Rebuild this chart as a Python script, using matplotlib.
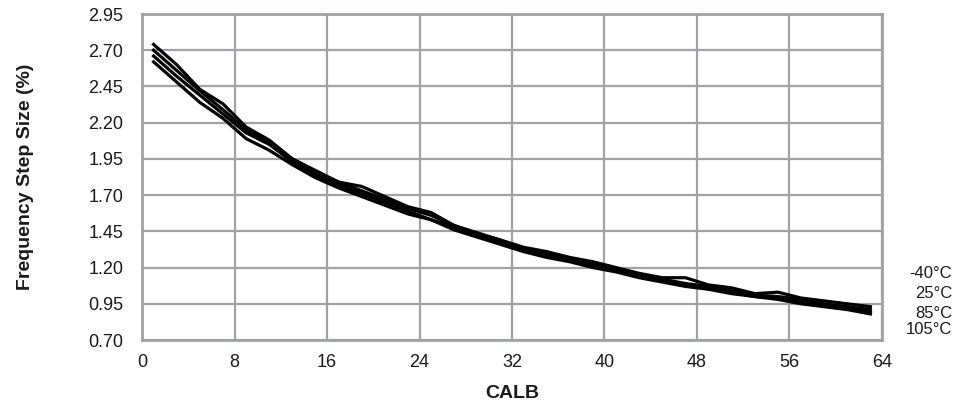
import matplotlib
matplotlib.use("Agg")
import matplotlib.pyplot as plt

plt.rcParams['font.family'] = ['Liberation Sans', 'DejaVu Sans']

calb = [1, 3, 5, 7, 9, 11, 13, 15, 17, 19, 21, 23, 25, 27, 29, 31,
        33, 35, 37, 39, 41, 43, 45, 47, 49, 51, 53, 55, 57, 59, 61, 63]

step_m40 = [2.74, 2.60, 2.43, 2.33, 2.17, 2.08, 1.95, 1.87, 1.79, 1.76, 1.69, 1.62, 1.58, 1.49, 1.43, 1.39,
            1.34, 1.31, 1.27, 1.24, 1.20, 1.16, 1.13, 1.13, 1.08, 1.06, 1.02, 1.03, 0.99, 0.97, 0.95, 0.93]
step_25 = [2.70, 2.56, 2.42, 2.29, 2.15, 2.06, 1.95, 1.86, 1.79, 1.73, 1.67, 1.61, 1.56, 1.49, 1.44, 1.39,
           1.33, 1.30, 1.26, 1.22, 1.19, 1.15, 1.12, 1.09, 1.07, 1.04, 1.01, 1.00, 0.98, 0.95, 0.93, 0.91]
step_85 = [2.66, 2.52, 2.39, 2.26, 2.13, 2.05, 1.93, 1.84, 1.77, 1.71, 1.65, 1.59, 1.53, 1.48, 1.42, 1.37,
           1.32, 1.29, 1.25, 1.21, 1.18, 1.14, 1.11, 1.08, 1.06, 1.03, 1.00, 0.99, 0.96, 0.94, 0.92, 0.89]
step_105 = [2.62, 2.48, 2.34, 2.23, 2.09, 2.01, 1.91, 1.82, 1.75, 1.69, 1.63, 1.57, 1.53, 1.46, 1.41, 1.36,
            1.31, 1.27, 1.24, 1.20, 1.17, 1.13, 1.10, 1.07, 1.05, 1.02, 1.00, 0.98, 0.95, 0.93, 0.91, 0.88]

labels = ['-40°C', '25°C', '85°C', '105°C']
x_ticks = [0, 8, 16, 24, 32, 40, 48, 56, 64]
y_ticks = [0.70, 0.95, 1.20, 1.45, 1.70, 1.95, 2.20, 2.45, 2.70, 2.95]

fig = plt.figure(figsize=(9.57, 4.07), dpi=100)
ax = fig.add_axes([0.1484, 0.1646, 0.7732, 0.8010])

grid_col = '#a0a2a6'
text_col = '#1a1a1a'
for s in [step_m40, step_25, step_85, step_105]:
    ax.plot(calb, s, color='black', lw=2.3, solid_joinstyle='round', zorder=3)

ax.set_xlim(0, 64)
ax.set_ylim(0.70, 2.95)
ax.set_xticks(x_ticks)
ax.set_yticks(y_ticks)
ax.set_yticklabels(['%.2f' % v for v in y_ticks])
ax.grid(True, color=grid_col, lw=1.6)
ax.set_axisbelow(True)
for sp in ax.spines.values():
    sp.set_color(grid_col)
    sp.set_linewidth(2.0)
ax.tick_params(axis='both', length=0, labelsize=13, colors=text_col)
ax.tick_params(axis='x', pad=10)
ax.tick_params(axis='y', pad=13.5)

ax.set_xlabel('CALB', fontsize=14, fontweight='bold', color=text_col, va='center')
ax.xaxis.set_label_coords(0.5, -0.1656)
ax.set_ylabel('Frequency Step Size (%)', fontsize=14, fontweight='bold', color=text_col, va='center')
ax.yaxis.set_label_coords(-0.1568, 0.5)

# temperature labels stacked at the right, outside the plot
label_y = [273, 294, 314, 330]
for lab, py in zip(labels, label_y):
    fig.text(952 / 957, 1 - py / 407, lab, ha='right', va='center', fontsize=12, color=text_col)

fig.savefig('out.png', dpi=100)
